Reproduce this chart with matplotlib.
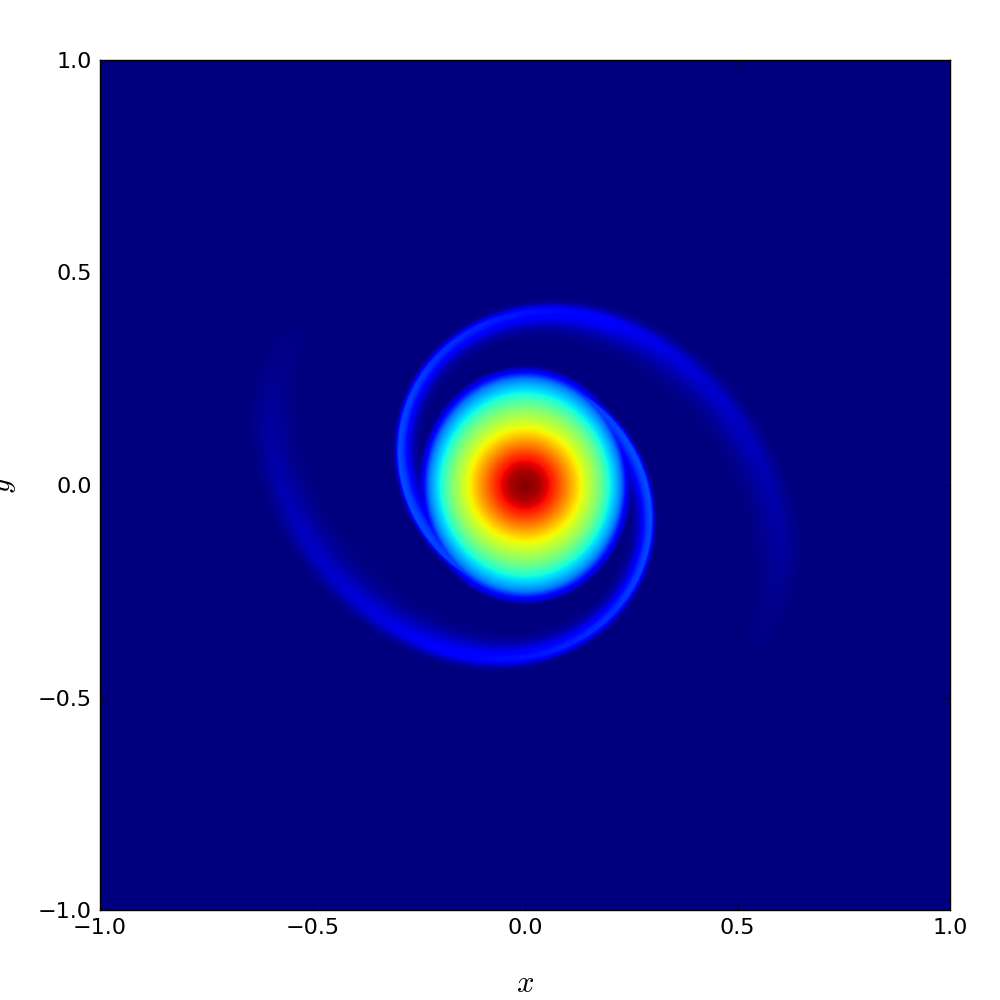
import matplotlib
matplotlib.use('agg')
import matplotlib.pyplot as plt
import numpy as np

plt.rcParams['mathtext.fontset'] = 'cm'

ticks = [-1.0, -0.5, 0.0, 0.5, 1.0]

# radial density of the central disc
core_r = [0.0, 0.035, 0.07, 0.105, 0.14, 0.175, 0.195, 0.21, 0.225, 0.238, 0.25, 0.268]
core_v = [1.0, 0.96, 0.86, 0.74, 0.62, 0.51, 0.43, 0.36, 0.30, 0.24, 0.14, 0.0]

# centre line of one spiral arm (the other one is the same turned by 180 deg)
arm_x = [-0.17, -0.09, 0.0, 0.153, 0.247, 0.294, 0.299, 0.271, 0.2, 0.106, 0.012, -0.082,
         -0.2, -0.318, -0.435, -0.529, -0.576, -0.605, -0.58, -0.5]
arm_y = [0.19, 0.235, 0.252, 0.2, 0.082, -0.012, -0.082, -0.2, -0.306, -0.376, -0.407, -0.41,
         -0.388, -0.329, -0.235, -0.106, 0.012, 0.129, 0.28, 0.42]
arm_v = [0.0, 0.1, 0.15, 0.19, 0.2, 0.2, 0.2, 0.19, 0.175, 0.16, 0.145, 0.135,
         0.115, 0.09, 0.07, 0.055, 0.04, 0.03, 0.012, 0.0]
arm_outer = [0.006, 0.006, 0.006, 0.006, 0.006, 0.006, 0.006, 0.007, 0.008, 0.009, 0.01, 0.011,
             0.013, 0.015, 0.017, 0.02, 0.022, 0.025, 0.025, 0.025]
arm_inner = [0.018, 0.02, 0.022, 0.024, 0.024, 0.022, 0.02, 0.02, 0.02, 0.022, 0.024, 0.026,
             0.03, 0.033, 0.034, 0.035, 0.035, 0.035, 0.035, 0.035]

xs = np.linspace(-1, 1, 850)
X, Y = np.meshgrid(xs, xs)
R = np.hypot(X, Y)
T = np.arctan2(Y, X)

# disc is a little longer along y than along x at its edge
stretch = 1 + 0.055 * np.clip((R - 0.12) / 0.12, 0, 1) * (-np.cos(2 * T))
field = np.interp(R / stretch, core_r, core_v)

arm_t = np.unwrap(np.arctan2(arm_y, arm_x))
arm_r = np.hypot(arm_x, arm_y)
fit = np.polyfit(arm_t, arm_r, 7)
order = np.argsort(arm_t)

for turn in [0, np.pi]:
    for k in [-2, -1, 0, 1, 2]:
        t = T + turn + 2 * np.pi * k
        inside = (t >= arm_t.min()) & (t <= arm_t.max())
        dr = R - np.polyval(fit, t)
        v = np.interp(t, arm_t[order], np.array(arm_v)[order])
        so = np.interp(t, arm_t[order], np.array(arm_outer)[order])
        si = np.interp(t, arm_t[order], np.array(arm_inner)[order])
        s = np.where(dr > 0, so, si)
        field = np.maximum(field, np.where(inside, v * np.exp(-0.5 * (dr / s) ** 2), 0))

fig = plt.figure(figsize=(10, 10), dpi=100)
ax = fig.add_axes([0.1, 0.09, 0.85, 0.85])
ax.imshow(field, origin='lower', extent=[-1, 1, -1, 1], cmap='jet', vmin=0, vmax=1,
          interpolation='bilinear', aspect='auto')
ax.set_xticks(ticks)
ax.set_yticks(ticks)
ax.tick_params(direction='in', top=True, right=True, length=4, width=0.5, labelsize=16, pad=6)
for s in ax.spines.values():
    s.set_linewidth(1.0)
ax.set_xlabel('$x$', fontsize=22, labelpad=22)
fig.text(0.003, 0.515, '$y$', fontsize=22, rotation=90, va='center', ha='center')

plt.savefig('out.png')
